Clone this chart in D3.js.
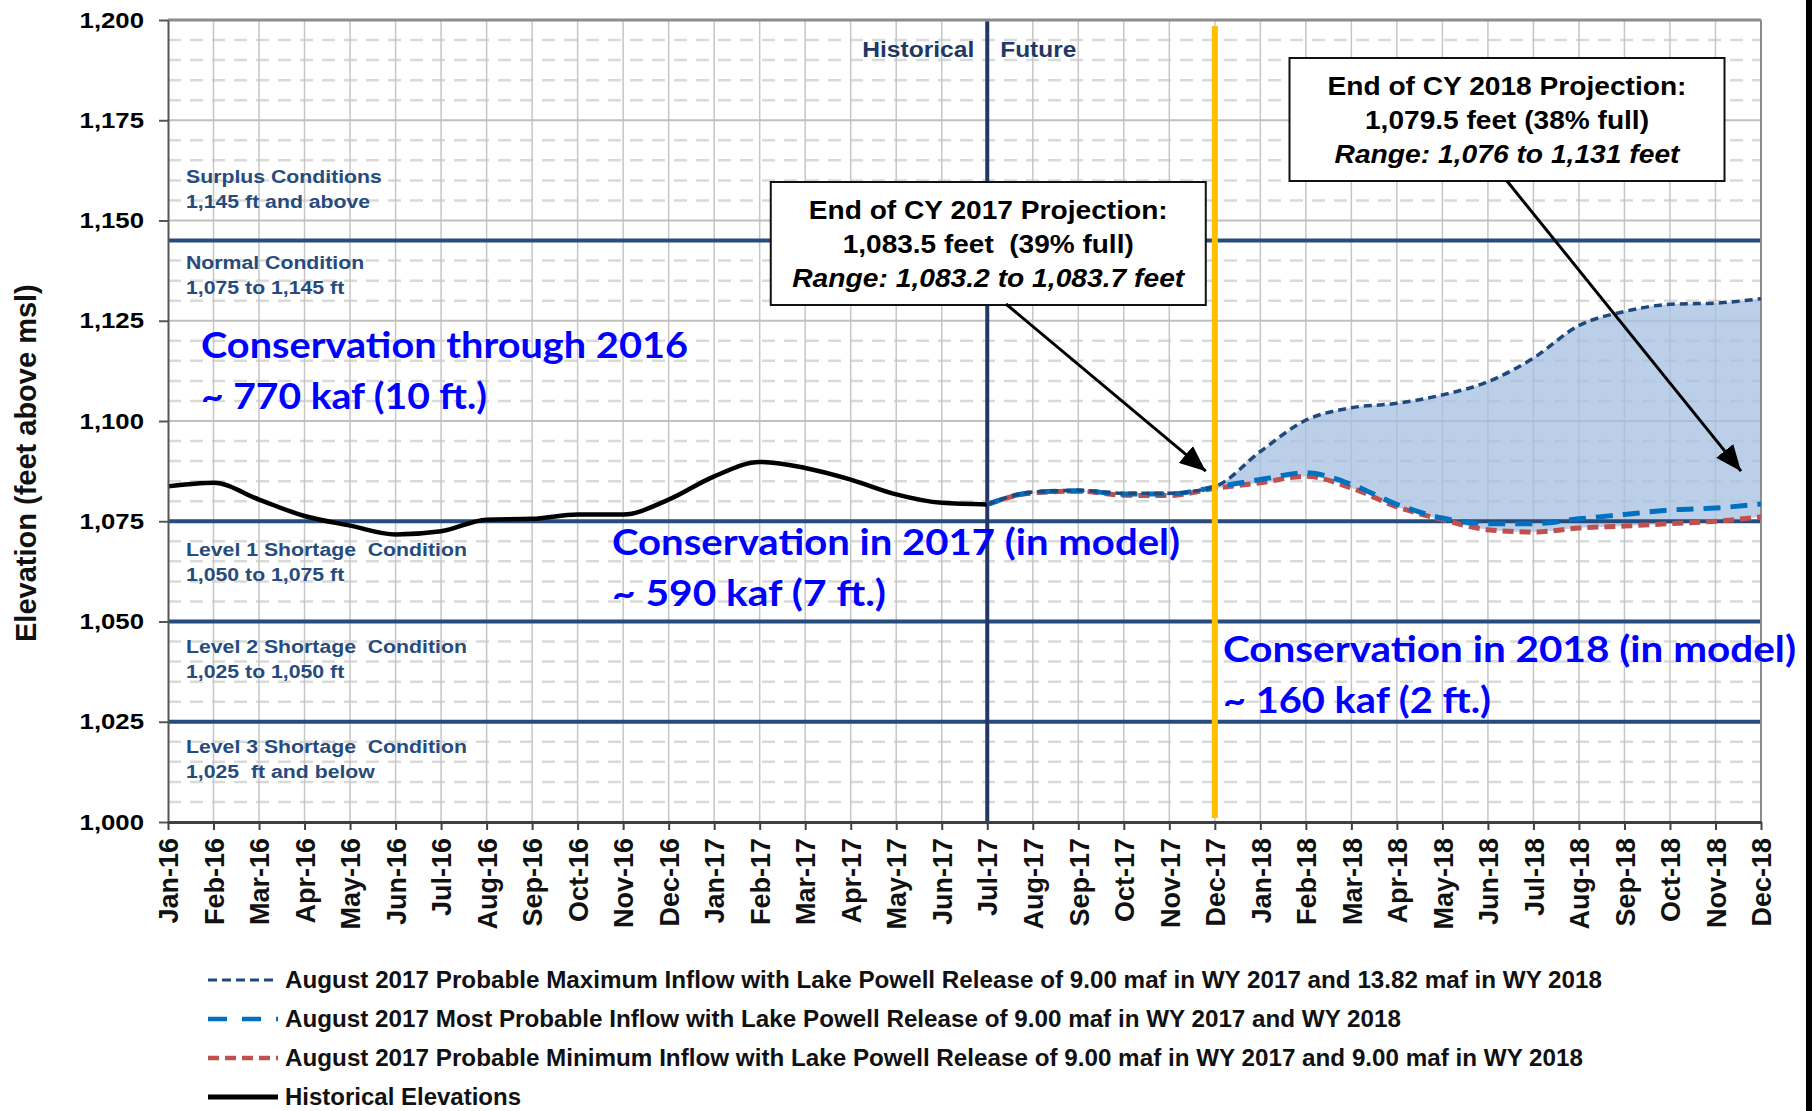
<!DOCTYPE html>
<html>
<head>
<meta charset="utf-8">
<script src="https://cdn.jsdelivr.net/npm/d3@7"></script>
<style>
  body { margin: 0; background: #fff; }
  svg { display: block; font-family: "Liberation Sans", Arial, sans-serif; }
</style>
</head>
<body>
<script>
// ---- data ----
var months = ["Jan-16","Feb-16","Mar-16","Apr-16","May-16","Jun-16","Jul-16","Aug-16","Sep-16","Oct-16","Nov-16","Dec-16",
              "Jan-17","Feb-17","Mar-17","Apr-17","May-17","Jun-17","Jul-17","Aug-17","Sep-17","Oct-17","Nov-17","Dec-17",
              "Jan-18","Feb-18","Mar-18","Apr-18","May-18","Jun-18","Jul-18","Aug-18","Sep-18","Oct-18","Nov-18","Dec-18"];

// Jan-16 .. Jul-17
var historical = [1083.7, 1084.6, 1080.4, 1076.3, 1073.9, 1071.7, 1072.5, 1075.4, 1075.6, 1076.7, 1076.7, 1080.4,
                  1086.2, 1089.8, 1088.3, 1085.4, 1081.7, 1079.6, 1079.2];

// Jul-17 .. Dec-18
var maxInflow  = [1079.2, 1082.3, 1082.7, 1082.0, 1082.0, 1083.7, 1092.4, 1100.2, 1103.3, 1104.4, 1106.5, 1109.8,
                  1115.7, 1123.8, 1127.3, 1129.1, 1129.4, 1130.5];
var mostInflow = [1079.2, 1082.2, 1082.6, 1081.8, 1081.8, 1083.5, 1085.4, 1087.1, 1084.2, 1079.2, 1075.8, 1074.4,
                  1074.4, 1075.6, 1076.7, 1077.8, 1078.3, 1079.3];
var minInflow  = [1079.2, 1082.1, 1082.5, 1081.5, 1081.4, 1083.2, 1084.6, 1086.2, 1083.3, 1078.6, 1075.4, 1072.9,
                  1072.3, 1073.3, 1073.8, 1074.4, 1075.0, 1076.1];

var yTicks = [1000, 1025, 1050, 1075, 1100, 1125, 1150, 1175, 1200];
var thresholds = [1145, 1075, 1050, 1025];

var zoneNames  = ["Surplus Conditions", "Normal Condition", "Level 1 Shortage  Condition",
                  "Level 2 Shortage  Condition", "Level 3 Shortage  Condition"];
var zoneRanges = ["1,145 ft and above", "1,075 to 1,145 ft", "1,050 to 1,075 ft",
                  "1,025 to 1,050 ft", "1,025  ft and below"];

var box2017 = ["End of CY 2017 Projection:", "1,083.5 feet  (39% full)", "Range: 1,083.2 to 1,083.7 feet"];
var box2018 = ["End of CY 2018 Projection:", "1,079.5 feet (38% full)", "Range: 1,076 to 1,131 feet"];

var conservation = [
  ["Conservation through 2016", "~ 770 kaf (10 ft.)"],
  ["Conservation in 2017 (in model)", "~ 590 kaf (7 ft.)"],
  ["Conservation in 2018 (in model)", "~ 160 kaf (2 ft.)"]
];

var legendLabels = [
  "August 2017 Probable Maximum Inflow with Lake Powell Release of 9.00 maf in WY 2017 and 13.82 maf in WY 2018",
  "August 2017 Most Probable Inflow with Lake Powell Release of 9.00 maf in WY 2017 and WY 2018",
  "August 2017 Probable Minimum Inflow with Lake Powell Release of 9.00 maf in WY 2017 and 9.00 maf in WY 2018",
  "Historical Elevations"
];

// ---- setup ----
var width = 1812, height = 1111;
var plotLeft = 168, plotRight = 1761, plotTop = 20, plotBottom = 822;

var svg = d3.select("body").append("svg")
  .attr("width", width)
  .attr("height", height);

var x = d3.scalePoint().domain(months).range([plotLeft, plotRight]);
var y = d3.scaleLinear().domain([1000, 1200]).range([plotBottom, plotTop]);
var projMonths = months.slice(18);

function fit(sel, w) {
  sel.attr("textLength", w).attr("lengthAdjust", "spacingAndGlyphs");
}
function stretch(sel, k) {
  sel.each(function() {
    var w = this.getComputedTextLength();
    d3.select(this).attr("textLength", w * k).attr("lengthAdjust", "spacingAndGlyphs");
  });
}

var navy = "#1F3864", zoneBlue = "#264B7D";

// ---- grid ----
var grid = svg.append("g");
grid.selectAll("line.minor")
  .data(d3.range(1005, 1200, 5).filter(function(v) { return v % 25 !== 0; }))
  .enter().append("line")
  .attr("x1", plotLeft).attr("x2", plotRight)
  .attr("y1", function(d) { return y(d); }).attr("y2", function(d) { return y(d); })
  .attr("stroke", "#D9D9D9").attr("stroke-width", 2.5).attr("stroke-dasharray", "13,9");

grid.selectAll("line.vert")
  .data(months.slice(1, -1))
  .enter().append("line")
  .attr("x1", function(d) { return x(d); }).attr("x2", function(d) { return x(d); })
  .attr("y1", plotTop).attr("y2", plotBottom)
  .attr("stroke", "#C6C6C6").attr("stroke-width", 1.5);

grid.selectAll("line.major")
  .data(yTicks.slice(1, -1))
  .enter().append("line")
  .attr("x1", plotLeft).attr("x2", plotRight)
  .attr("y1", function(d) { return y(d); }).attr("y2", function(d) { return y(d); })
  .attr("stroke", "#C0C0C0").attr("stroke-width", 2);

// ---- range shading ----
var proj = projMonths.map(function(m, i) {
  return { m: m, max: maxInflow[i], most: mostInflow[i], min: minInflow[i] };
});

svg.append("path")
  .datum(proj)
  .attr("fill", "#A4BFE2").attr("fill-opacity", 0.75)
  .attr("d", d3.area()
    .x(function(d) { return x(d.m); })
    .y0(function(d) { return y(d.min); })
    .y1(function(d) { return y(d.max); })
    .curve(d3.curveMonotoneX));

// ---- threshold lines ----
svg.selectAll("line.thr")
  .data(thresholds)
  .enter().append("line")
  .attr("x1", plotLeft).attr("x2", plotRight)
  .attr("y1", function(d) { return y(d); }).attr("y2", function(d) { return y(d); })
  .attr("stroke", zoneBlue).attr("stroke-width", 4);

// historical / future divider
svg.append("line")
  .attr("x1", x("Jul-17")).attr("x2", x("Jul-17"))
  .attr("y1", plotTop).attr("y2", plotBottom)
  .attr("stroke", navy).attr("stroke-width", 4);

// ---- frame ----
svg.append("line").attr("x1", plotLeft).attr("x2", plotRight).attr("y1", plotTop).attr("y2", plotTop)
  .attr("stroke", "#8C8C8C").attr("stroke-width", 3);
svg.append("line").attr("x1", plotRight).attr("x2", plotRight).attr("y1", plotTop).attr("y2", plotBottom)
  .attr("stroke", "#8C8C8C").attr("stroke-width", 2);

// ---- series ----
var curve = d3.curveMonotoneX;
var lineOf = function(key) {
  return d3.line().x(function(d) { return x(d.m); }).y(function(d) { return y(d[key]); }).curve(curve);
};

svg.append("path")
  .datum(months.slice(0, historical.length).map(function(m, i) { return { m: m, v: historical[i] }; }))
  .attr("fill", "none").attr("stroke", "#000").attr("stroke-width", 4.5)
  .attr("d", lineOf("v"));

var seriesStyle = [
  { key: "min",  color: "#C0504D", w: 5,   dash: "11,6" },
  { key: "most", color: "#0070C0", w: 5,   dash: "17,10" },
  { key: "max",  color: "#1F497D", w: 3.5, dash: "8,5" }
];
seriesStyle.forEach(function(s) {
  svg.append("path")
    .datum(proj)
    .attr("fill", "none").attr("stroke", s.color).attr("stroke-width", s.w)
    .attr("stroke-dasharray", s.dash)
    .attr("d", lineOf(s.key));
});

// end of CY 2017 marker line
svg.append("line")
  .attr("x1", x("Dec-17")).attr("x2", x("Dec-17"))
  .attr("y1", plotTop + 6).attr("y2", plotBottom - 4)
  .attr("stroke", "#FFC000").attr("stroke-width", 6);

// ---- axes ----
var yAxis = svg.append("g")
  .attr("transform", "translate(" + plotLeft + ",0)")
  .call(d3.axisLeft(y).tickValues(yTicks).tickFormat(d3.format(",")).tickSize(9).tickPadding(15).tickSizeOuter(0));
yAxis.select(".domain").attr("stroke", "#555").attr("stroke-width", 2);
yAxis.selectAll(".tick line").attr("stroke", "#555").attr("stroke-width", 2);
yAxis.selectAll("text")
  .attr("font-family", "Liberation Sans, Arial, sans-serif")
  .attr("font-size", 22).attr("font-weight", "bold").attr("fill", "#000")
  .call(stretch, 1.17);

var xAxis = svg.append("g")
  .attr("transform", "translate(0," + plotBottom + ")")
  .call(d3.axisBottom(x).tickSize(8).tickSizeOuter(0));
xAxis.select(".domain").attr("stroke", "#404040").attr("stroke-width", 3);
xAxis.selectAll(".tick line").attr("stroke", "#404040").attr("stroke-width", 2);
xAxis.selectAll("text")
  .attr("font-family", "Liberation Sans, Arial, sans-serif")
  .attr("font-size", 27).attr("font-weight", "bold").attr("fill", "#111")
  .attr("transform", "rotate(-90)")
  .attr("text-anchor", "end")
  .attr("x", -16).attr("y", 0).attr("dy", "0.36em");

svg.append("text")
  .attr("transform", "translate(26," + y(1089.5) + ") rotate(-90)")
  .attr("text-anchor", "middle").attr("dy", "0.36em")
  .attr("font-size", 29).attr("font-weight", "bold").attr("fill", "#111")
  .text("Elevation (feet above msl)");

// ---- zone labels ----
var zoneY = [y(1145) - 58, y(1145) + 28, y(1075) + 35, y(1050) + 31, y(1025) + 31];
zoneNames.forEach(function(name, i) {
  var g = svg.append("g").attr("fill", zoneBlue).attr("font-weight", "bold").attr("font-size", 18);
  g.append("text").attr("x", 186).attr("y", zoneY[i])
    .attr("xml:space", "preserve").style("white-space", "pre")
    .text(name).call(stretch, 1.18);
  g.append("text").attr("x", 186).attr("y", zoneY[i] + 25)
    .attr("xml:space", "preserve").style("white-space", "pre")
    .text(zoneRanges[i]).call(stretch, 1.18);
});

svg.append("text")
  .attr("x", x("Jul-17") - 13).attr("y", 57)
  .attr("text-anchor", "end").attr("font-size", 22).attr("font-weight", "bold").attr("fill", navy)
  .text("Historical").call(fit, 112);
svg.append("text")
  .attr("x", x("Jul-17") + 13).attr("y", 57)
  .attr("font-size", 22).attr("font-weight", "bold").attr("fill", navy)
  .text("Future").call(fit, 76);

// ---- conservation notes ----
var consX = [201, 612, 1223];
var consY = [358, 555, 662];
var consW = [[487, 286], [568, 274], [573, 268]];
conservation.forEach(function(lines, i) {
  lines.forEach(function(t, j) {
    svg.append("text")
      .attr("x", consX[i]).attr("y", consY[i] + j * 51)
      .attr("font-family", "Lato, 'Open Sans', sans-serif")
      .attr("font-size", 36).attr("font-weight", "bold").attr("fill", "#0000FF")
      .text(t).call(fit, consW[i][j]);
  });
});

// ---- callout boxes ----
function callout(lines, cx, ty, widths) {
  var g = svg.append("g");
  g.append("rect")
    .attr("x", cx - 217.5).attr("y", ty).attr("width", 435).attr("height", 123)
    .attr("fill", "#fff").attr("stroke", "#111").attr("stroke-width", 2);
  lines.forEach(function(t, i) {
    g.append("text")
      .attr("x", cx).attr("y", ty + 37 + i * 34)
      .attr("text-anchor", "middle")
      .attr("font-size", 26).attr("font-weight", "bold")
      .attr("font-style", i === 2 ? "italic" : "normal")
      .attr("fill", "#000")
      .attr("xml:space", "preserve").style("white-space", "pre")
      .text(t).call(fit, widths[i]);
  });
}
callout(box2017, x("Jul-17") + 1, 182, [359, 291, 392]);
callout(box2018, 1507, 58, [359, 284, 345]);

// ---- arrows ----
svg.append("defs").append("marker")
  .attr("id", "head")
  .attr("markerUnits", "userSpaceOnUse")
  .attr("markerWidth", 26).attr("markerHeight", 22)
  .attr("refX", 26).attr("refY", 11)
  .attr("orient", "auto")
  .append("path").attr("d", "M0,0 L26,11 L0,22 Z").attr("fill", "#000");

svg.append("line")
  .attr("x1", 1006).attr("y1", 304)
  .attr("x2", x("Dec-17") - 9).attr("y2", y(1087.5))
  .attr("stroke", "#000").attr("stroke-width", 3).attr("marker-end", "url(#head)");
svg.append("line")
  .attr("x1", 1507).attr("y1", 181)
  .attr("x2", x("Dec-18") - 20).attr("y2", y(1087.5))
  .attr("stroke", "#000").attr("stroke-width", 3).attr("marker-end", "url(#head)");

// ---- legend ----
var legendStyle = [
  { color: "#1F497D", w: 3,   dash: "9,5" },
  { color: "#0070C0", w: 4.5, dash: "19,15" },
  { color: "#C0504D", w: 4.5, dash: "11,6" },
  { color: "#000",    w: 5,   dash: null }
];
var legendY = [980, 1019, 1058, 1097];
var legendW = [1317, 1116, 1298, 236];
legendLabels.forEach(function(label, i) {
  var s = legendStyle[i];
  svg.append("line")
    .attr("x1", 208).attr("x2", 278)
    .attr("y1", legendY[i]).attr("y2", legendY[i])
    .attr("stroke", s.color).attr("stroke-width", s.w)
    .attr("stroke-dasharray", s.dash);
  svg.append("text")
    .attr("x", 285).attr("y", legendY[i] + 8)
    .attr("font-size", 23).attr("font-weight", "bold").attr("fill", "#111")
    .text(label).call(fit, legendW[i]);
});

// dark strip on the right edge of the picture
svg.append("rect").attr("x", 1806).attr("y", 0).attr("width", 6).attr("height", height).attr("fill", "#000");
</script>
</body>
</html>
